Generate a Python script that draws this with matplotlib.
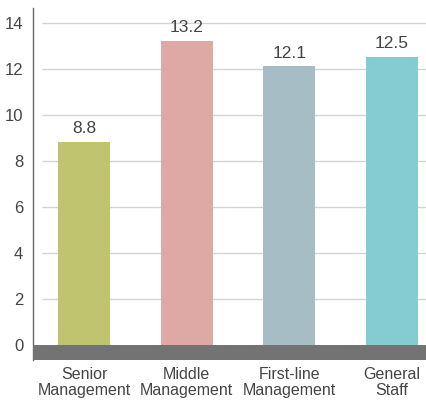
import matplotlib.pyplot as plt

categories = ["Senior\nManagement", "Middle\nManagement", "First-line\nManagement", "General\nStaff"]
values = [8.8, 13.2, 12.1, 12.5]
colors = ["#c0c46f", "#dea8a5", "#a6bdc6", "#84ccd1"]
yticks = [0, 2, 4, 6, 8, 10, 12, 14]

plt.rcParams['font.family'] = ['Liberation Sans', 'DejaVu Sans']

fig = plt.figure(figsize=(4.27, 4.01), dpi=100)
ax = fig.add_axes([0.0773, 0.1022, 0.9227, 0.878])

x = list(range(len(values)))
ax.bar(x, values, width=0.506, color=colors, zorder=3)

# grid lines (start a little right of the spine)
for t in yticks[1:]:
    ax.hlines(t, -0.41, 3.34, color="#d3d3d3", linewidth=1, zorder=1)

# thick gray baseline band
ax.axhspan(-0.67, 0, color="#737373", zorder=4, linewidth=0)

for xi, v in zip(x, values):
    ax.text(xi, v + 0.25, f"{v}", ha="center", va="bottom", fontsize=12.5,
            color="#444444")

ax.set_xlim(-0.497, 3.34)
ax.set_ylim(-0.67, 14.64)
ax.set_yticks(yticks)
ax.set_yticklabels([str(t) for t in yticks], fontsize=12, color="#444444")
ax.set_xticks(x)
ax.set_xticklabels(categories, fontsize=11.5, color="#444444", linespacing=1.05)
ax.tick_params(axis="both", length=0)
ax.tick_params(axis="y", pad=7)
ax.tick_params(axis="x", pad=5)

for s in ["top", "right", "bottom"]:
    ax.spines[s].set_visible(False)
ax.spines["left"].set_color("#666666")
ax.spines["left"].set_linewidth(1)

fig.savefig("out.png", dpi=100)
